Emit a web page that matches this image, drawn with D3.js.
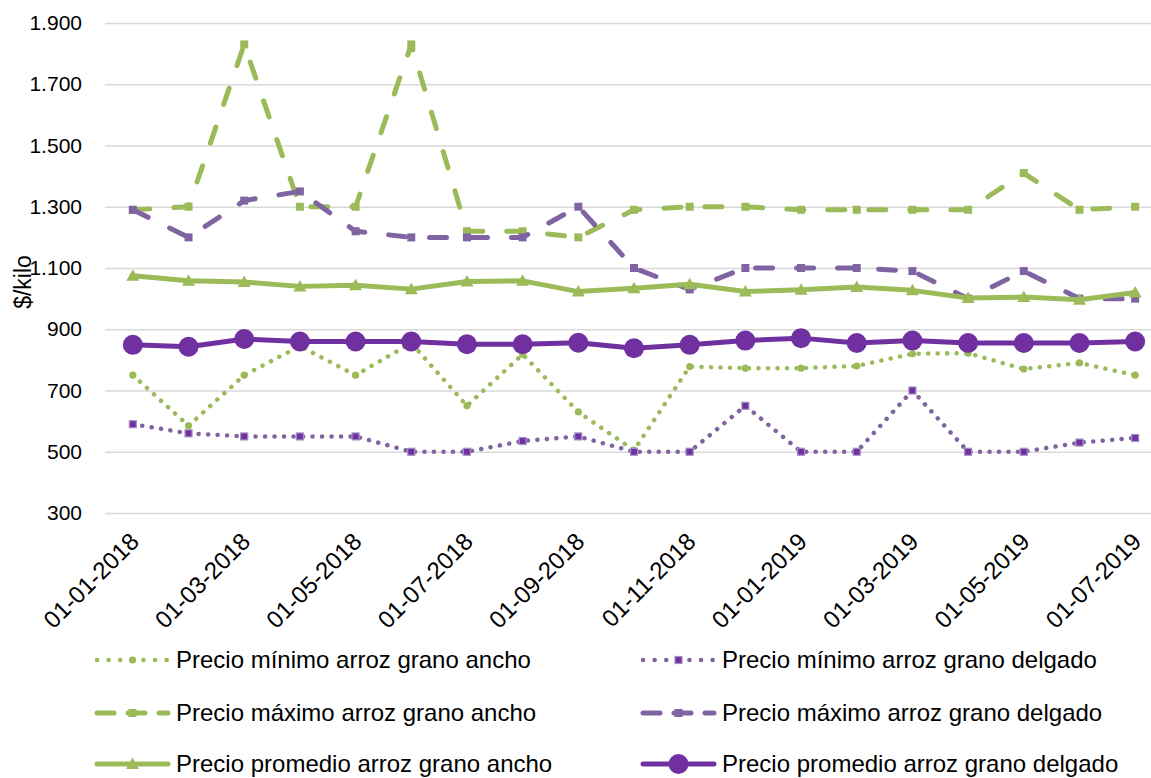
<!DOCTYPE html>
<html>
<head>
<meta charset="utf-8">
<script src="https://cdn.jsdelivr.net/npm/d3@7"></script>
<style>
  html, body { margin: 0; padding: 0; background: #fff; }
  svg { display: block; font-family: "Liberation Sans", Arial, sans-serif; }
</style>
</head>
<body>
<svg id="chart" width="1151" height="778"></svg>
<script>
// Monthly dates (first day of each month)
const fechas = [
  "01-01-2018","01-02-2018","01-03-2018","01-04-2018","01-05-2018","01-06-2018",
  "01-07-2018","01-08-2018","01-09-2018","01-10-2018","01-11-2018","01-12-2018",
  "01-01-2019","01-02-2019","01-03-2019","01-04-2019","01-05-2019","01-06-2019",
  "01-07-2019"
];
// Labels shown on the category axis (every second month)
const etiquetasX = fechas.filter((d, i) => i % 2 === 0);
const ticksY = [300, 500, 700, 900, 1100, 1300, 1500, 1700, 1900];

// Prices, $/kilo
const minimoAncho    = [750, 585, 750, 845, 750, 855, 650, 818, 630, 505, 778, 773, 773, 780, 820, 822, 770, 790, 750];
const minimoDelgado  = [590, 560, 550, 550, 550, 500, 500, 535, 550, 500, 500, 650, 500, 500, 700, 500, 500, 530, 545];
const maximoAncho    = [1290, 1300, 1830, 1300, 1300, 1830, 1220, 1220, 1200, 1290, 1300, 1300, 1290, 1290, 1290, 1290, 1410, 1290, 1300];
const maximoDelgado  = [1290, 1200, 1320, 1350, 1220, 1200, 1200, 1200, 1300, 1100, 1030, 1100, 1100, 1100, 1090, 1000, 1090, 1000, 1000];
const promedioAncho  = [1075, 1058, 1054, 1040, 1044, 1031, 1056, 1058, 1023, 1034, 1047, 1023, 1029, 1038, 1027, 1002, 1005, 996, 1020];
const promedioDelgado= [849, 843, 868, 860, 860, 860, 851, 851, 856, 838, 849, 863, 871, 855, 863, 855, 855, 855, 860];

const VERDE = "#9BBB59", LILA = "#8064A2", MORADO = "#7030A0";

const series = [
  { nombre: "Precio mínimo arroz grano ancho",    valores: minimoAncho,    color: VERDE, ancho: 4.5, dash: "0.1 9.4",  marca: "punto" },
  { nombre: "Precio mínimo arroz grano delgado",  valores: minimoDelgado,  color: LILA,  ancho: 4.5, dash: "0.1 9.4",  marca: "cuadro" },
  { nombre: "Precio máximo arroz grano ancho",    valores: maximoAncho,    color: VERDE, ancho: 5,   dash: "17 24",    marca: "cuadroG" },
  { nombre: "Precio máximo arroz grano delgado",  valores: maximoDelgado,  color: LILA,  ancho: 5,   dash: "17 24",    marca: "cuadroG" },
  { nombre: "Precio promedio arroz grano ancho",  valores: promedioAncho,  color: VERDE, ancho: 5,   dash: null,       marca: "triangulo" },
  { nombre: "Precio promedio arroz grano delgado",valores: promedioDelgado,color: MORADO,ancho: 5,   dash: null,       marca: "circulo" }
];

const svg = d3.select("#chart");
const plotLeft = 105, plotRight = 1163, plotTop = 23, plotBottom = 513;

const x = d3.scalePoint().domain(fechas).range([plotLeft, plotRight]).padding(0.5);
const y = d3.scaleLinear().domain([300, 1900]).range([plotBottom, plotTop]);

const loc = d3.formatLocale({ decimal: ",", thousands: ".", grouping: [3], currency: ["$", ""] });
const fmt = loc.format(",d");

// Horizontal gridlines and value labels
const ejeY = svg.append("g")
  .attr("transform", `translate(${plotLeft},0)`)
  .call(d3.axisLeft(y).tickValues(ticksY).tickFormat(fmt)
        .tickSize(-(plotRight - plotLeft)).tickPadding(23));
ejeY.select(".domain").remove();
ejeY.selectAll(".tick line").attr("stroke", "#d9d9d9").attr("stroke-width", 1.5);
ejeY.selectAll(".tick text").attr("fill", "#000").style("font-size", "21px")
  .style("font-family", "'Liberation Sans', Arial, sans-serif");

// Category labels, rotated
const ejeX = svg.append("g")
  .attr("transform", `translate(0,${plotBottom})`)
  .call(d3.axisBottom(x).tickValues(etiquetasX).tickSize(0).tickPadding(0));
ejeX.select(".domain").remove();
ejeX.selectAll(".tick text")
  .attr("fill", "#000")
  .style("font-size", "24px")
  .style("font-family", "'Liberation Sans', Arial, sans-serif")
  .attr("text-anchor", "end")
  .attr("dy", null)
  .attr("y", 0)
  .attr("transform", "translate(7,30) rotate(-45)");

// Axis title
svg.append("text")
  .attr("transform", "translate(31,282) rotate(-90)")
  .attr("text-anchor", "middle")
  .style("font-size", "23px")
  .attr("fill", "#000")
  .text("$/kilo");

// Marker drawing helper
function dibujarMarca(g, tipo, color, cx, cy) {
  if (tipo === "punto") {
    g.append("circle").attr("cx", cx).attr("cy", cy).attr("r", 3.6).attr("fill", color);
  } else if (tipo === "cuadro") {
    g.append("rect").attr("x", cx - 3.5).attr("y", cy - 3.5).attr("width", 7).attr("height", 7)
      .attr("fill", MORADO).attr("stroke", "#a58fc4").attr("stroke-width", 1.2);
  } else if (tipo === "cuadroG") {
    g.append("rect").attr("x", cx - 4).attr("y", cy - 4).attr("width", 8).attr("height", 8)
      .attr("fill", color);
  } else if (tipo === "triangulo") {
    g.append("path").attr("transform", `translate(${cx},${cy})`)
      .attr("d", "M0,-6.5L6.5,5L-6.5,5Z").attr("fill", color);
  } else if (tipo === "circulo") {
    g.append("circle").attr("cx", cx).attr("cy", cy).attr("r", 10).attr("fill", color);
  }
}

const linea = d3.line().x((d, i) => x(fechas[i])).y(d => y(d));

series.forEach(s => {
  const g = svg.append("g");
  g.append("path")
    .attr("d", linea(s.valores))
    .attr("fill", "none")
    .attr("stroke", s.color)
    .attr("stroke-width", s.ancho)
    .attr("stroke-linecap", "round")
    .attr("stroke-linejoin", "round")
    .attr("stroke-dasharray", s.dash);
  s.valores.forEach((v, i) => dibujarMarca(g, s.marca, s.color, x(fechas[i]), y(v)));
});

// Legend: two columns, three rows
const filasY = [660, 713, 764];
const colsX = [97, 643];
series.forEach((s, k) => {
  const col = k % 2, fila = Math.floor(k / 2);
  const lx = colsX[col], ly = filasY[fila];
  const g = svg.append("g");
  g.append("line")
    .attr("x1", lx).attr("x2", lx + 71).attr("y1", ly).attr("y2", ly)
    .attr("stroke", s.color).attr("stroke-width", s.ancho)
    .attr("stroke-linecap", "round")
    .attr("stroke-dasharray", s.dash ? (s.dash.startsWith("0.1") ? "0.1 11.5" : "17 14") : null);
  dibujarMarca(g, s.marca, s.color, lx + 35.5, ly);
  g.append("text")
    .attr("x", lx + 79).attr("y", ly).attr("dy", "0.35em")
    .style("font-size", "24px").attr("fill", "#000")
    .text(s.nombre);
});
</script>
</body>
</html>
